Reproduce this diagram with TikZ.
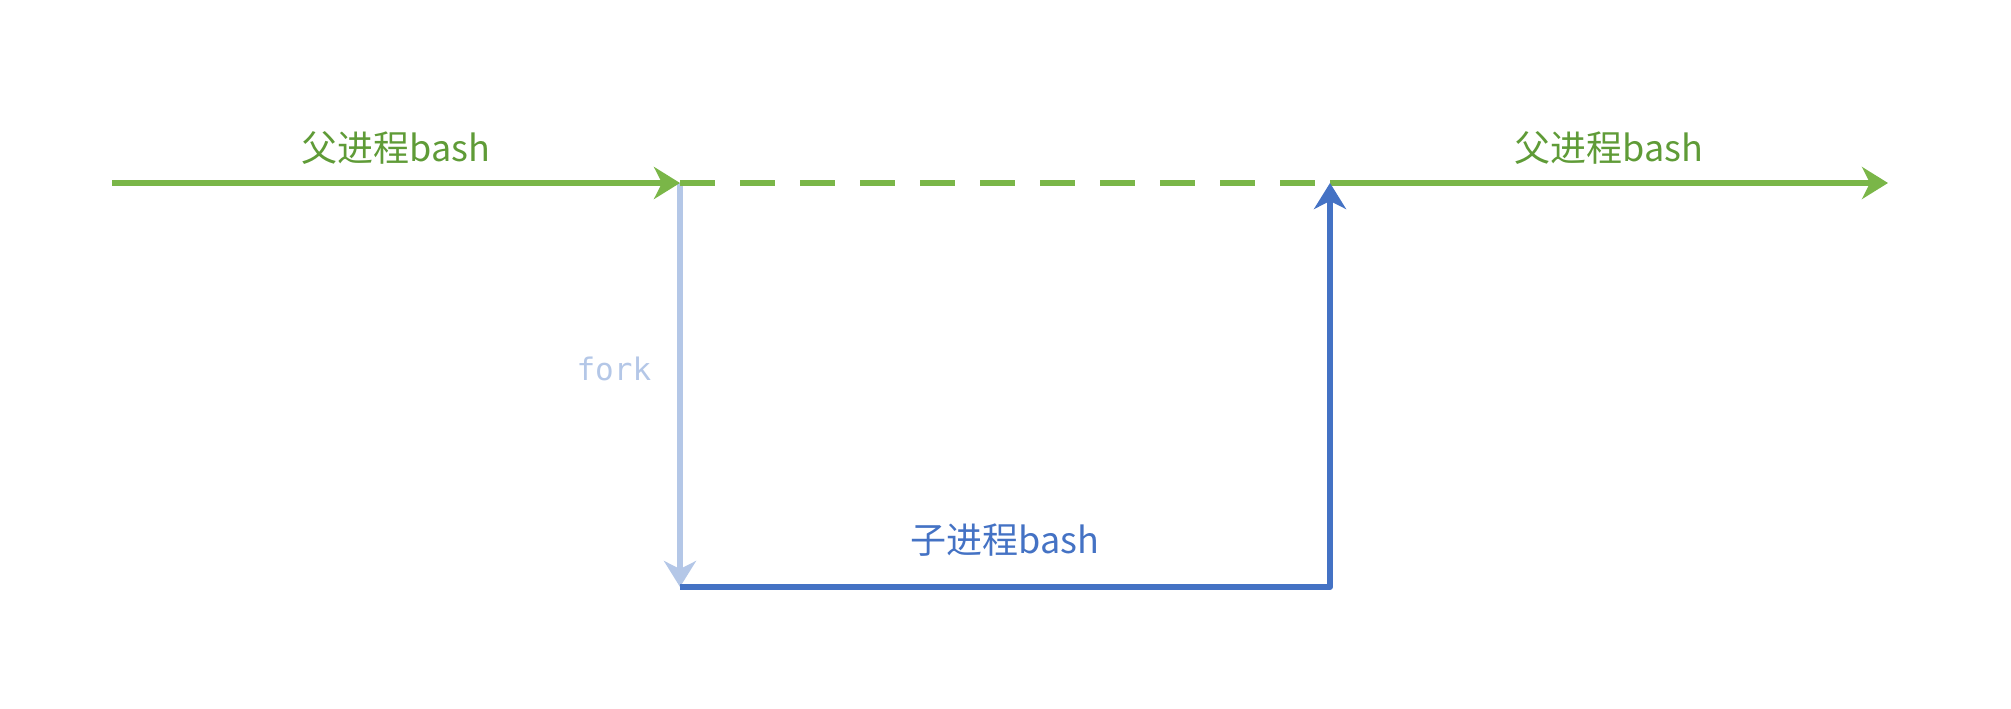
\documentclass[tikz,border=0pt]{standalone}
\usepackage{fontspec}
\usepackage{tikz}
\usetikzlibrary{arrows.meta,calc,positioning}
\newfontfamily\cjkfont{Noto Sans CJK SC}
\newfontfamily\forkfont{DejaVu Sans Mono}
\definecolor{pgreen}{HTML}{7AB648}
\definecolor{ptext}{HTML}{5F9B37}
\definecolor{cblue}{HTML}{4472C4}
\definecolor{fblue}{HTML}{B4C7E7}
\tikzstyle{parent} =[draw=pgreen, line width=3pt, -{Stealth[length=13pt, width=16pt, inset=4pt]}]
\tikzstyle{waiting} =[draw=pgreen, line width=3pt, dash pattern=on 17.5pt off 12.5pt]
\tikzstyle{child} =[draw=cblue, line width=3pt, line join=round, -{Stealth[length=13pt, width=16pt, inset=4pt]}]
\tikzstyle{forkline} =[draw=fblue, line width=2.8pt, -{Stealth[length=13pt, width=16pt, inset=4pt]}]
\tikzstyle{plabel} =[font=\cjkfont\fontsize{18pt}{20pt}\selectfont, text=ptext, anchor=base, inner sep=0pt, yshift=10.5pt]
\tikzstyle{clabel} =[font=\cjkfont\fontsize{18pt}{20pt}\selectfont, text=cblue, anchor=base, inner sep=0pt, yshift=17pt]
\tikzstyle{flabel} =[font=\forkfont\fontsize{15.5pt}{17pt}\selectfont, text=fblue, anchor=base east, inner sep=0pt, xshift=-13pt, yshift=2.5pt]

\begin{document}
\begin{tikzpicture}[x=1pt, y=1pt]
\useasboundingbox (0,0) rectangle (1005.5,354);
\coordinate (start) at (56,262.5);
\coordinate (fork) at ($(start)+(284,0)$);
\coordinate (join) at ($(fork)+(325,0)$);
\coordinate (end) at ($(join)+(279,0)$);
\coordinate (forkend) at ($(fork)-(0,202)$);
\coordinate (childend) at (forkend -| join);

\path [forkline] (fork) -- node [flabel] (lfork) {fork} (forkend);
\path [parent] (start) -- node [plabel] (lparent) {父进程bash} (fork);
\path [waiting] (fork) -- (join);
\path [parent] (join) -- node [plabel] (rparent) {父进程bash} (end);
\path [child] (forkend) -- node [clabel] (lchild) {子进程bash} (childend) -- (join);
\end{tikzpicture}
\end{document}
